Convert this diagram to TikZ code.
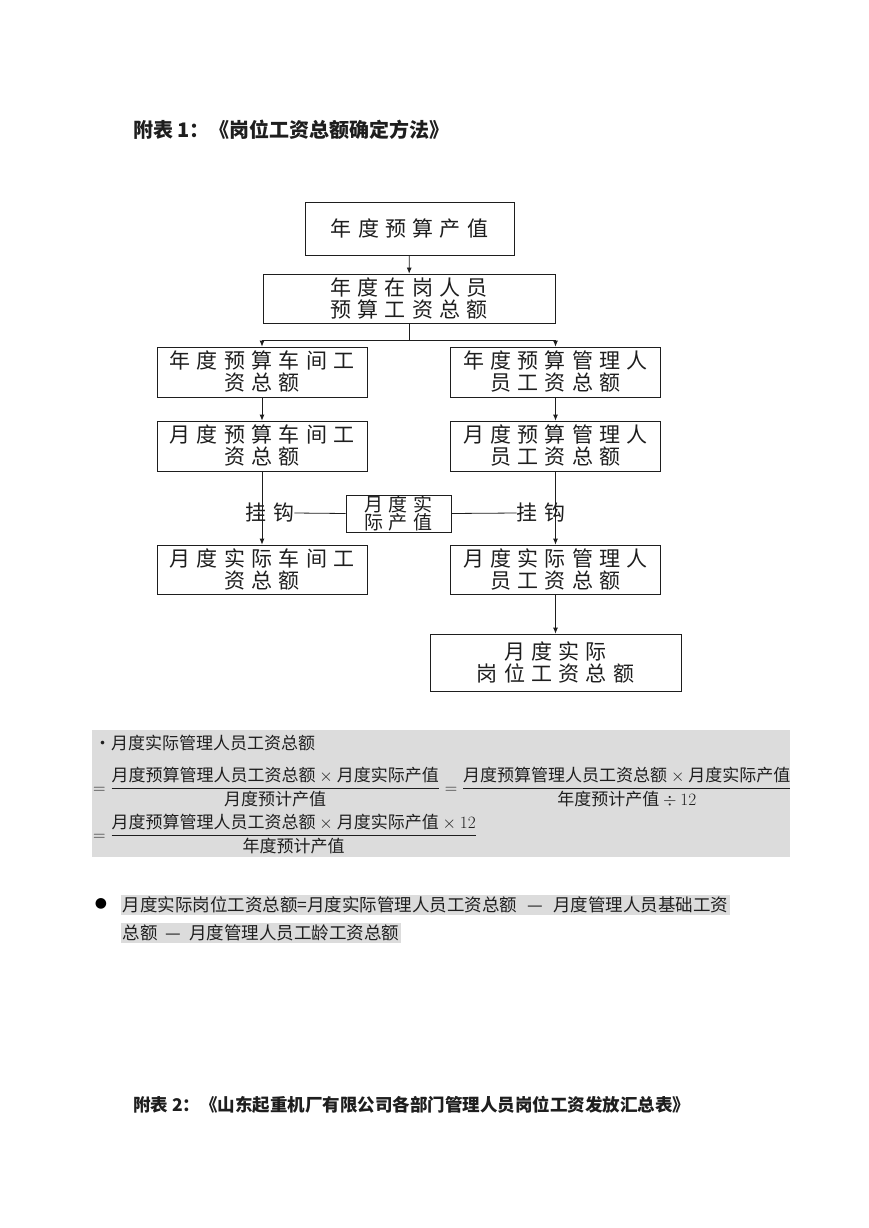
\documentclass[tikz,border=0pt]{standalone}
\usepackage{amsmath}
\usepackage{fontspec}
\setmainfont{Noto Sans CJK SC}
\newfontfamily\boxfont[LetterSpace=30]{Noto Sans CJK SC}
\newfontfamily\symfont{DejaVu Sans}
\usepackage{tikz}
\usetikzlibrary{arrows.meta,positioning}
\definecolor{Ink}{HTML}{1E1E1E}
\definecolor{Shade}{HTML}{DCDCDC}

\begin{document}
\begin{tikzpicture}[
  x=1pt,y=-1pt,
  >={Latex[length=6pt,width=5pt]},
  flowbox/.style={draw=Ink,line width=0.8pt,align=center,inner sep=0pt,text=Ink,font=\boxfont\fontsize{21}{22}\selectfont},
  hook/.style={inner sep=0pt,text=Ink,font=\boxfont\fontsize{21}{22}\selectfont},
  title/.style={anchor=west,inner sep=0pt,text=Ink,font=\bfseries\fontsize{20}{22}\selectfont},
  formula/.style={anchor=west,inner sep=0pt,text=Ink,font=\fontsize{17}{20}\selectfont},
  marked/.style={anchor=west,inner sep=1.5pt,fill=Shade,text=Ink,font=\fontsize{17.5}{20}\selectfont},
  arrow/.style={->,line width=0.8pt,draw=Ink},
  link/.style={line width=0.8pt,draw=Ink}
]
  \useasboundingbox (0,0) rectangle (868,1228);
  \fill[white] (0,0) rectangle (868,1228);

  % headings
  \node[title] (head1) at (133,130) {附表 1：《岗位工资总额确定方法》};
  \node[title,font=\bfseries\fontsize{17.5}{20}\selectfont] (head2) at (133,1105) {附表 2：《山东起重机厂有限公司各部门管理人员岗位工资发放汇总表》};

  % flow chart
  \node[flowbox,minimum width=209,minimum height=53] (yearout) at (409.5,228.5) {年度预算产值};
  \node[flowbox,minimum width=292,minimum height=49] (yearall) at (409,298.5) {年度在岗人员\\预算工资总额};
  \node[flowbox,minimum width=210,minimum height=50] (yearshop) at (262,372) {年度预算车间工\\资总额};
  \node[flowbox,minimum width=210,minimum height=50] (yearmgr) at (555.5,372) {年度预算管理人\\员工资总额};
  \node[flowbox,minimum width=210,minimum height=50] (monshop) at (262,446) {月度预算车间工\\资总额};
  \node[flowbox,minimum width=210,minimum height=50] (monmgr) at (555.5,446) {月度预算管理人\\员工资总额};
  \node[flowbox,minimum width=105,minimum height=37,font=\boxfont\fontsize{19}{18}\selectfont] (actout) at (398.5,513.5) {月度实\\际产值};
  \node[flowbox,minimum width=210,minimum height=49] (actshop) at (262,569.5) {月度实际车间工\\资总额};
  \node[flowbox,minimum width=210,minimum height=49] (actmgr) at (555.5,569.5) {月度实际管理人\\员工资总额};
  \node[flowbox,minimum width=251,minimum height=57] (actpost) at (555.5,662.5) {月度实际\\岗位工资总额};
  \coordinate (split) at (409,340);

  \draw[arrow] (yearout) -- (yearall);
  \draw[link] (yearall.south) -- (split);
  \draw[arrow] (split) -| (yearshop.north);
  \draw[arrow] (split) -| (yearmgr.north);
  \draw[arrow] (yearshop) -- (monshop);
  \draw[arrow] (yearmgr) -- (monmgr);
  \draw[arrow] (monshop) -- (actshop);
  \draw[arrow] (monmgr) -- (actmgr);
  \draw[arrow] (actmgr) -- (actpost);

  \node[hook] (hookl) at (270,513) {挂钩};
  \node[hook] (hookr) at (541,513) {挂钩};
  \draw[link] (actout.west) -- (hookl.east);
  \draw[link] (actout.east) -- (hookr.west);

  % formulas
  \fill[Shade] (92,730) rectangle (790,857);
  \node[formula] (fline0) at (94,743) {\textbullet 月度实际管理人员工资总额};
  \node[formula] (fline1) at (93,787) {$=\dfrac{\text{月度预算管理人员工资总额}\times\text{月度实际产值}}{\text{月度预计产值}}=\dfrac{\text{月度预算管理人员工资总额}\times\text{月度实际产值}}{\text{年度预计产值}\div 12}$};
  \node[formula] (fline2) at (93,834) {$=\dfrac{\text{月度预算管理人员工资总额}\times\text{月度实际产值}\times 12}{\text{年度预计产值}}$};

  % bullet text
  \node[anchor=center,inner sep=0pt,font=\symfont\fontsize{14}{16}\selectfont] (dot) at (101,904) {●};
  \node[marked] (note1) at (121,905) {月度实际岗位工资总额=月度实际管理人员工资总额\hspace{10pt}—\hspace{10pt}月度管理人员基础工资};
  \node[marked] (note2) at (121,933) {总额\hspace{8pt}—\hspace{8pt}月度管理人员工龄工资总额};
\end{tikzpicture}
\end{document}
